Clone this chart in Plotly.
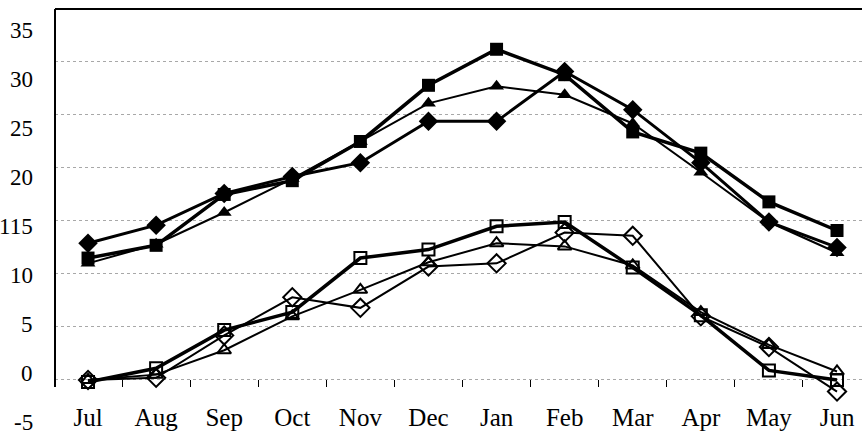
import plotly.graph_objects as go

months = ["Jul", "Aug", "Sep", "Oct", "Nov", "Dec", "Jan", "Feb", "Mar", "Apr", "May", "Jun"]

# upper (filled) series
max_square   = [11.5, 12.7, 17.5, 18.8, 22.5, 27.8, 31.2, 28.8, 23.4, 21.4, 16.8, 14.1]
max_triangle = [11.0, 12.8, 15.8, 19.0, 22.5, 26.1, 27.7, 26.9, 24.2, 19.6, 14.9, 12.0]
max_diamond  = [12.9, 14.6, 17.6, 19.2, 20.5, 24.4, 24.4, 29.1, 25.5, 20.5, 14.9, 12.5]

# lower (open) series
min_square   = [-0.2, 1.1, 4.7, 6.4, 11.5, 12.3, 14.5, 14.9, 10.6, 6.1, 0.9, 0.0]
min_triangle = [0.0, 0.5, 2.8, 6.0, 8.5, 11.1, 12.9, 12.6, 10.8, 6.4, 3.3, 0.8]
min_diamond  = [0.0, 0.2, 4.2, 7.8, 6.8, 10.7, 11.0, 13.9, 13.6, 6.0, 3.1, -1.1]

y_tick_labels = ["35", "30", "25", "20", "115", "10", "5", "0", "-5"]

FONT = "Liberation Serif"
fig = go.Figure()

def add(y, symbol, lw, size, mlw=0):
    fig.add_trace(go.Scatter(
        x=months, y=y, mode="lines+markers",
        line=dict(color="black", width=lw),
        marker=dict(symbol=symbol, size=size, color="black",
                    line=dict(color="black", width=mlw)),
        cliponaxis=False, showlegend=False))

add(max_triangle, "triangle-up", 2, 13)
add(max_diamond, "diamond", 3, 15)
add(max_square, "square", 3.5, 13)
add(min_triangle, "triangle-up-open", 2, 12, 2)
add(min_diamond, "diamond-open", 2, 14, 2)
add(min_square, "square-open", 3.5, 12, 2)

W, H = 862, 436
ml, mr, mt, mb = 55, 0, 9, 37
plot_bottom = H - mb
plot_h = H - mt - mb
axis_px = 387  # pixel row of the category axis
axis_pos = (plot_bottom - axis_px) / plot_h

fig.update_layout(
    width=W, height=H,
    margin=dict(l=ml, r=mr, t=mt, b=mb),
    plot_bgcolor="white", paper_bgcolor="white",
    font=dict(family=FONT, color="black", size=25),
    xaxis=dict(type="category", range=[-0.485, 11.367],
               anchor="free", position=axis_pos,
               showgrid=False, showline=False, zeroline=False,
               ticks="inside", ticklen=7, tickcolor="black", tickwidth=1,
               tickson="boundaries", ticklabelstandoff=13,
               tickfont=dict(family=FONT, size=25, color="black")),
    yaxis=dict(range=[-1.8, 35], dtick=5, showticklabels=False,
               showgrid=True, gridcolor="#a8a8a8", gridwidth=1, griddash="dot",
               zeroline=False, showline=False, ticks=""),
)

# top border and left axis line
fig.add_shape(type="line", xref="paper", yref="paper", x0=0, x1=1, y0=1, y1=1,
              line=dict(color="black", width=2))
fig.add_shape(type="line", xref="paper", yref="paper", x0=0, x1=0, y0=axis_pos, y1=1,
              line=dict(color="black", width=2))

# y tick labels (offset as in the scanned original)
for i, lab in enumerate(y_tick_labels):
    py = 30 + 49 * i
    fig.add_annotation(text=lab, xref="paper", yref="paper",
                       x=0, xshift=-20, xanchor="right",
                       y=(plot_bottom - py) / plot_h, yanchor="middle",
                       showarrow=False,
                       font=dict(family=FONT, size=23, color="black"))

fig.write_html("out.html", config={"displayModeBar": False},
               post_script="document.body.style.margin='0';document.body.style.overflow='hidden';")
